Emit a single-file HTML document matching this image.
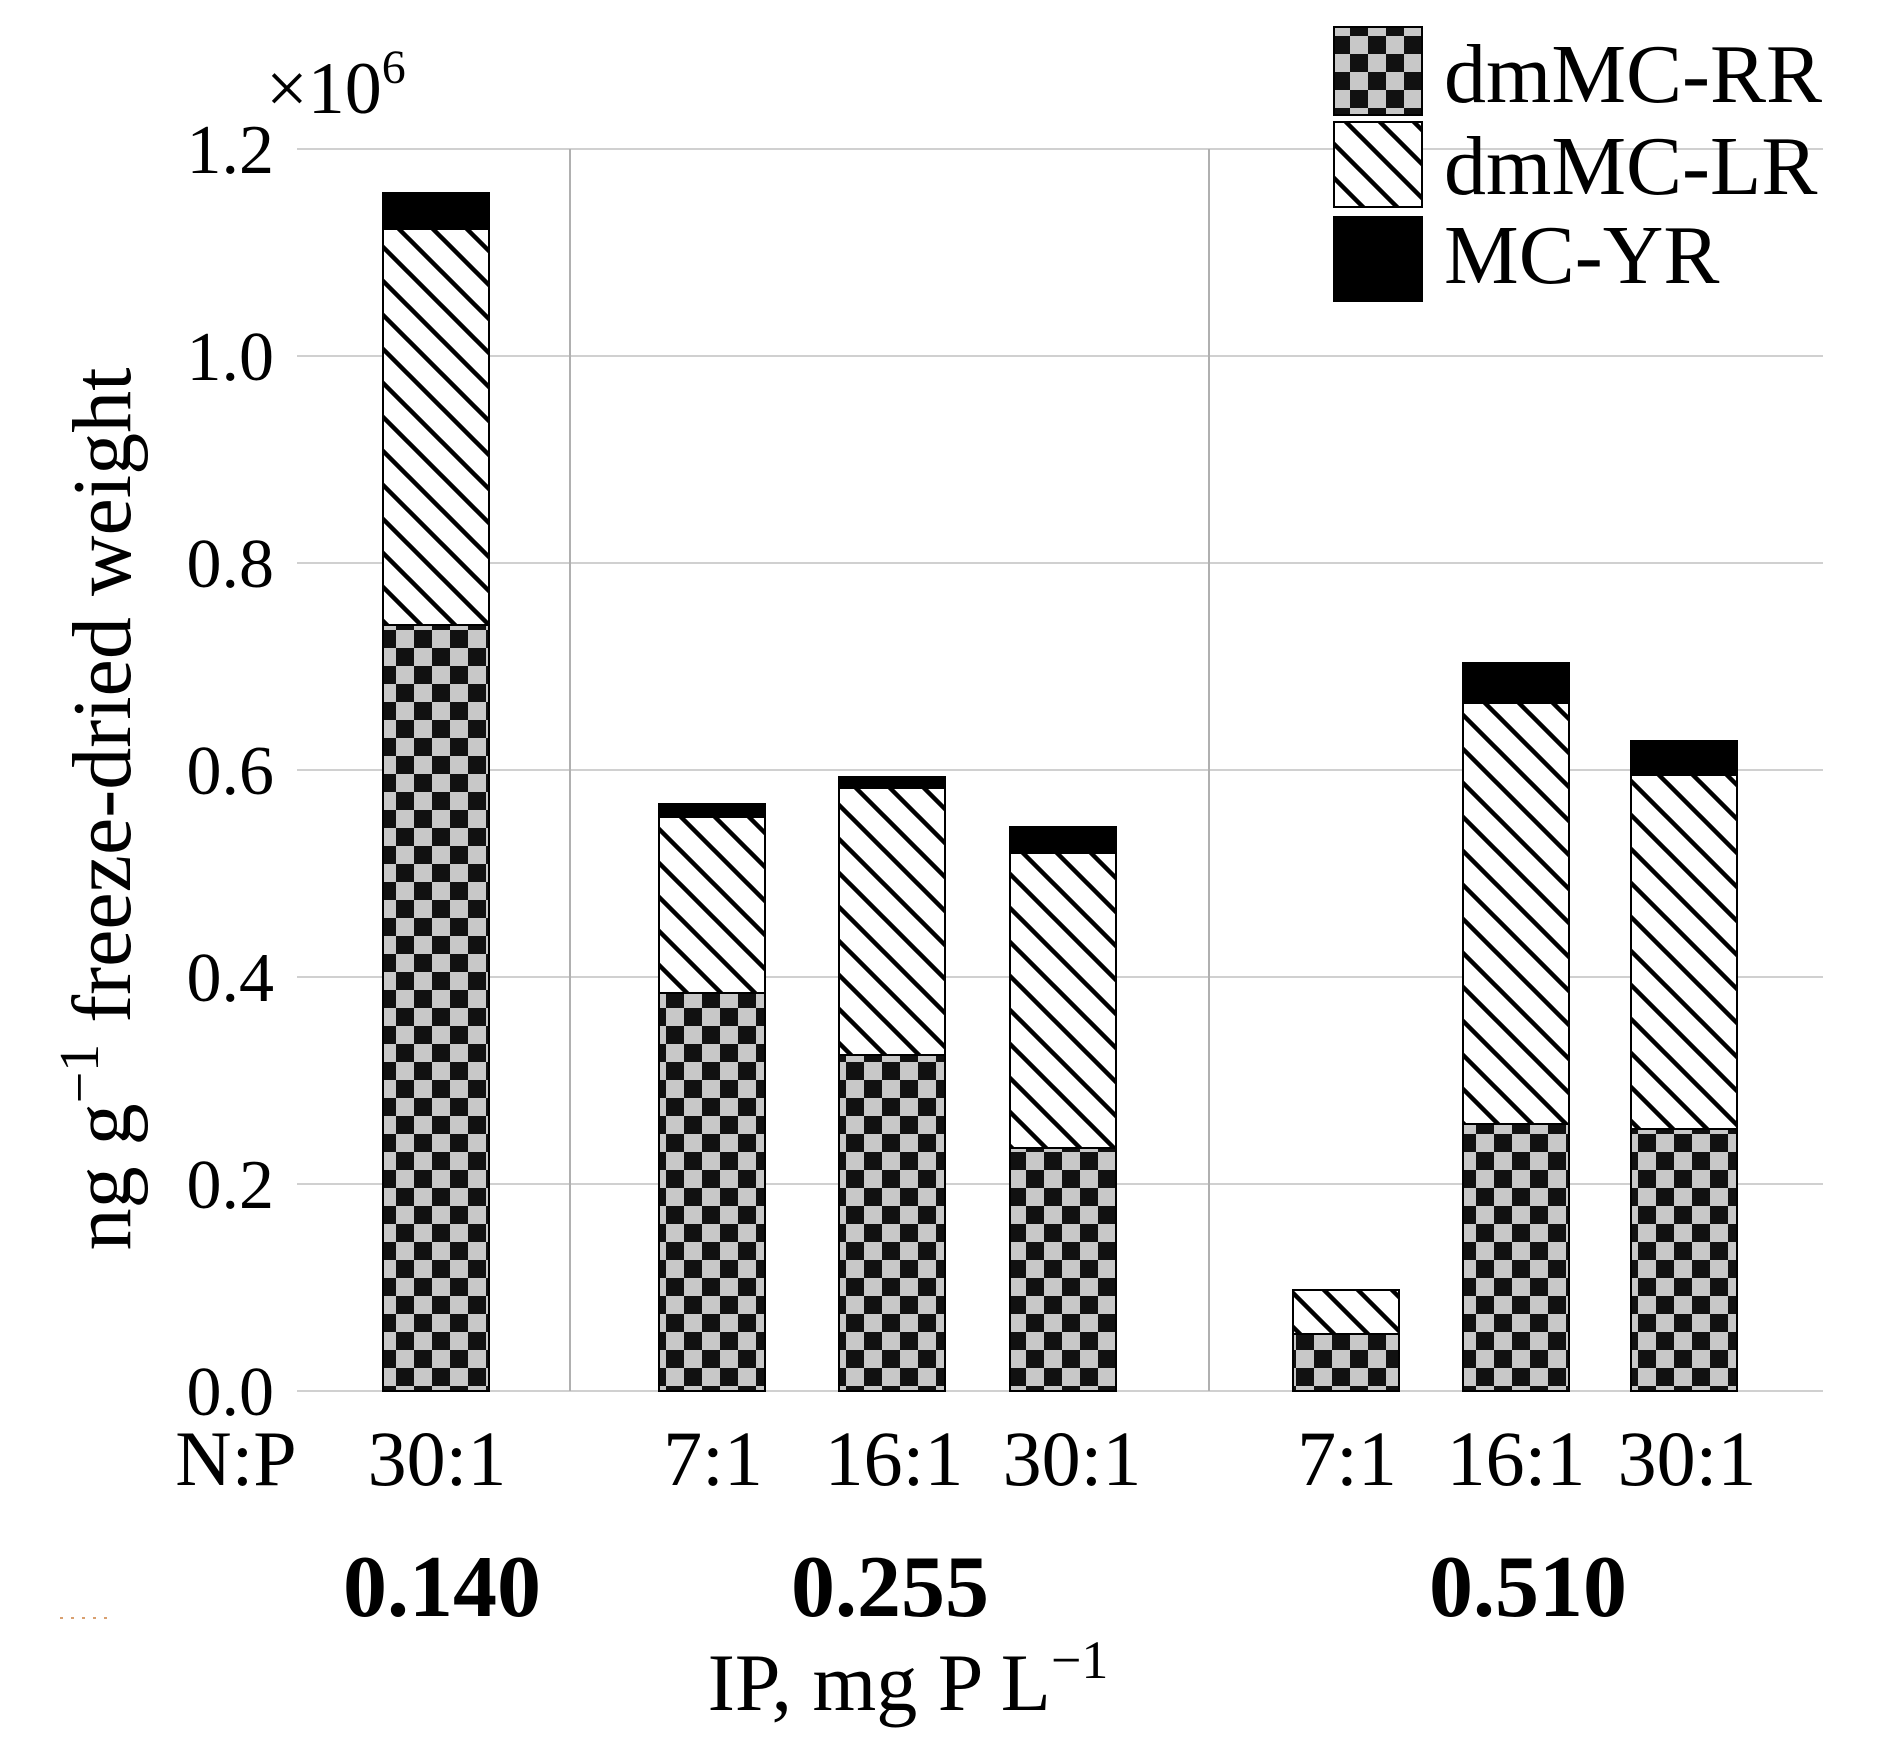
<!DOCTYPE html>
<html><head><style>body{margin:0;background:#fff}</style></head><body>
<svg width="1892" height="1754" xmlns="http://www.w3.org/2000/svg" font-family="Liberation Serif, serif">
<defs>
<pattern id="chk" width="36" height="36" patternUnits="userSpaceOnUse">
<rect width="36" height="36" fill="#c8c8c8"/><rect width="18" height="18" fill="#111"/><rect x="18" y="18" width="18" height="18" fill="#111"/>
</pattern>
<pattern id="hat" width="34" height="34" patternUnits="userSpaceOnUse">
<rect width="34" height="34" fill="#fff"/>
<path d="M-9,-9 L43,43 M-43,-9 L9,43 M25,-9 L77,43" stroke="#000" stroke-width="4.5"/>
</pattern>
</defs>
<g stroke="#d0d0d0" stroke-width="2">
<line x1="297" y1="149" x2="1823" y2="149"/><line x1="297" y1="356" x2="1823" y2="356"/>
<line x1="297" y1="563" x2="1823" y2="563"/><line x1="297" y1="770" x2="1823" y2="770"/>
<line x1="297" y1="977" x2="1823" y2="977"/><line x1="297" y1="1184" x2="1823" y2="1184"/>
<line x1="297" y1="1391" x2="1823" y2="1391"/>
</g>
<g stroke="#b0b0b0" stroke-width="2"><line x1="570" y1="149" x2="570" y2="1391"/><line x1="1209" y1="149" x2="1209" y2="1391"/></g>
<g stroke="#000" stroke-width="2">
<rect x="383" y="625" width="106" height="766" fill="url(#chk)"/><rect x="383" y="229" width="106" height="396" fill="url(#hat)"/><rect x="383" y="193" width="106" height="36" fill="#000"/>
<rect x="659" y="993" width="106" height="398" fill="url(#chk)"/><rect x="659" y="817" width="106" height="176" fill="url(#hat)"/><rect x="659" y="804" width="106" height="13" fill="#000"/>
<rect x="839" y="1055" width="106" height="336" fill="url(#chk)"/><rect x="839" y="788" width="106" height="267" fill="url(#hat)"/><rect x="839" y="777" width="106" height="11" fill="#000"/>
<rect x="1010" y="1148" width="106" height="243" fill="url(#chk)"/><rect x="1010" y="853" width="106" height="295" fill="url(#hat)"/><rect x="1010" y="827" width="106" height="26" fill="#000"/>
<rect x="1293" y="1334" width="106" height="57" fill="url(#chk)"/><rect x="1293" y="1290" width="106" height="44" fill="url(#hat)"/>
<rect x="1463" y="1124" width="106" height="267" fill="url(#chk)"/><rect x="1463" y="703" width="106" height="421" fill="url(#hat)"/><rect x="1463" y="663" width="106" height="40" fill="#000"/>
<rect x="1631" y="1129" width="106" height="262" fill="url(#chk)"/><rect x="1631" y="775" width="106" height="354" fill="url(#hat)"/><rect x="1631" y="741" width="106" height="34" fill="#000"/>
</g>
<g font-size="70" text-anchor="end" fill="#000">
<text x="274" y="173">1.2</text><text x="274" y="380">1.0</text><text x="274" y="587">0.8</text>
<text x="274" y="794">0.6</text><text x="274" y="1001">0.4</text><text x="274" y="1208">0.2</text><text x="274" y="1415">0.0</text>
</g>
<text x="266" y="113" font-size="74">×10<tspan dy="-30" font-size="48">6</tspan></text>
<g stroke="#000" stroke-width="2">
<rect x="1334" y="27" width="88" height="88" fill="url(#chk)"/>
<rect x="1334" y="122" width="88" height="85" fill="url(#hat)"/>
<rect x="1334" y="217" width="88" height="84" fill="#000"/>
</g>
<g font-size="84"><text x="1444" y="102">dmMC-RR</text><text x="1444" y="194">dmMC-LR</text><text x="1444" y="283">MC-YR</text></g>
<g font-size="78" text-anchor="middle">
<text x="236" y="1485">N:P</text><text x="437" y="1485">30:1</text>
<text x="713" y="1485">7:1</text><text x="894" y="1485">16:1</text><text x="1072" y="1485">30:1</text>
<text x="1347" y="1485">7:1</text><text x="1516" y="1485">16:1</text><text x="1687" y="1485">30:1</text>
</g>
<g font-size="88" font-weight="bold" text-anchor="middle">
<text x="442" y="1616">0.140</text><text x="890" y="1616">0.255</text><text x="1528" y="1616">0.510</text>
</g>
<line x1="60" y1="1618" x2="114" y2="1618" stroke="#d9a070" stroke-width="2" stroke-dasharray="3,8"/>
<text x="908" y="1710" font-size="82" text-anchor="middle">IP, mg P L<tspan dy="-32" font-size="54">−1</tspan></text>
<text transform="translate(130,809) rotate(-90)" font-size="84" text-anchor="middle">ng g<tspan dy="-32" font-size="56">−1</tspan><tspan dy="32"> freeze-dried weight</tspan></text>
</svg>
</body></html>
